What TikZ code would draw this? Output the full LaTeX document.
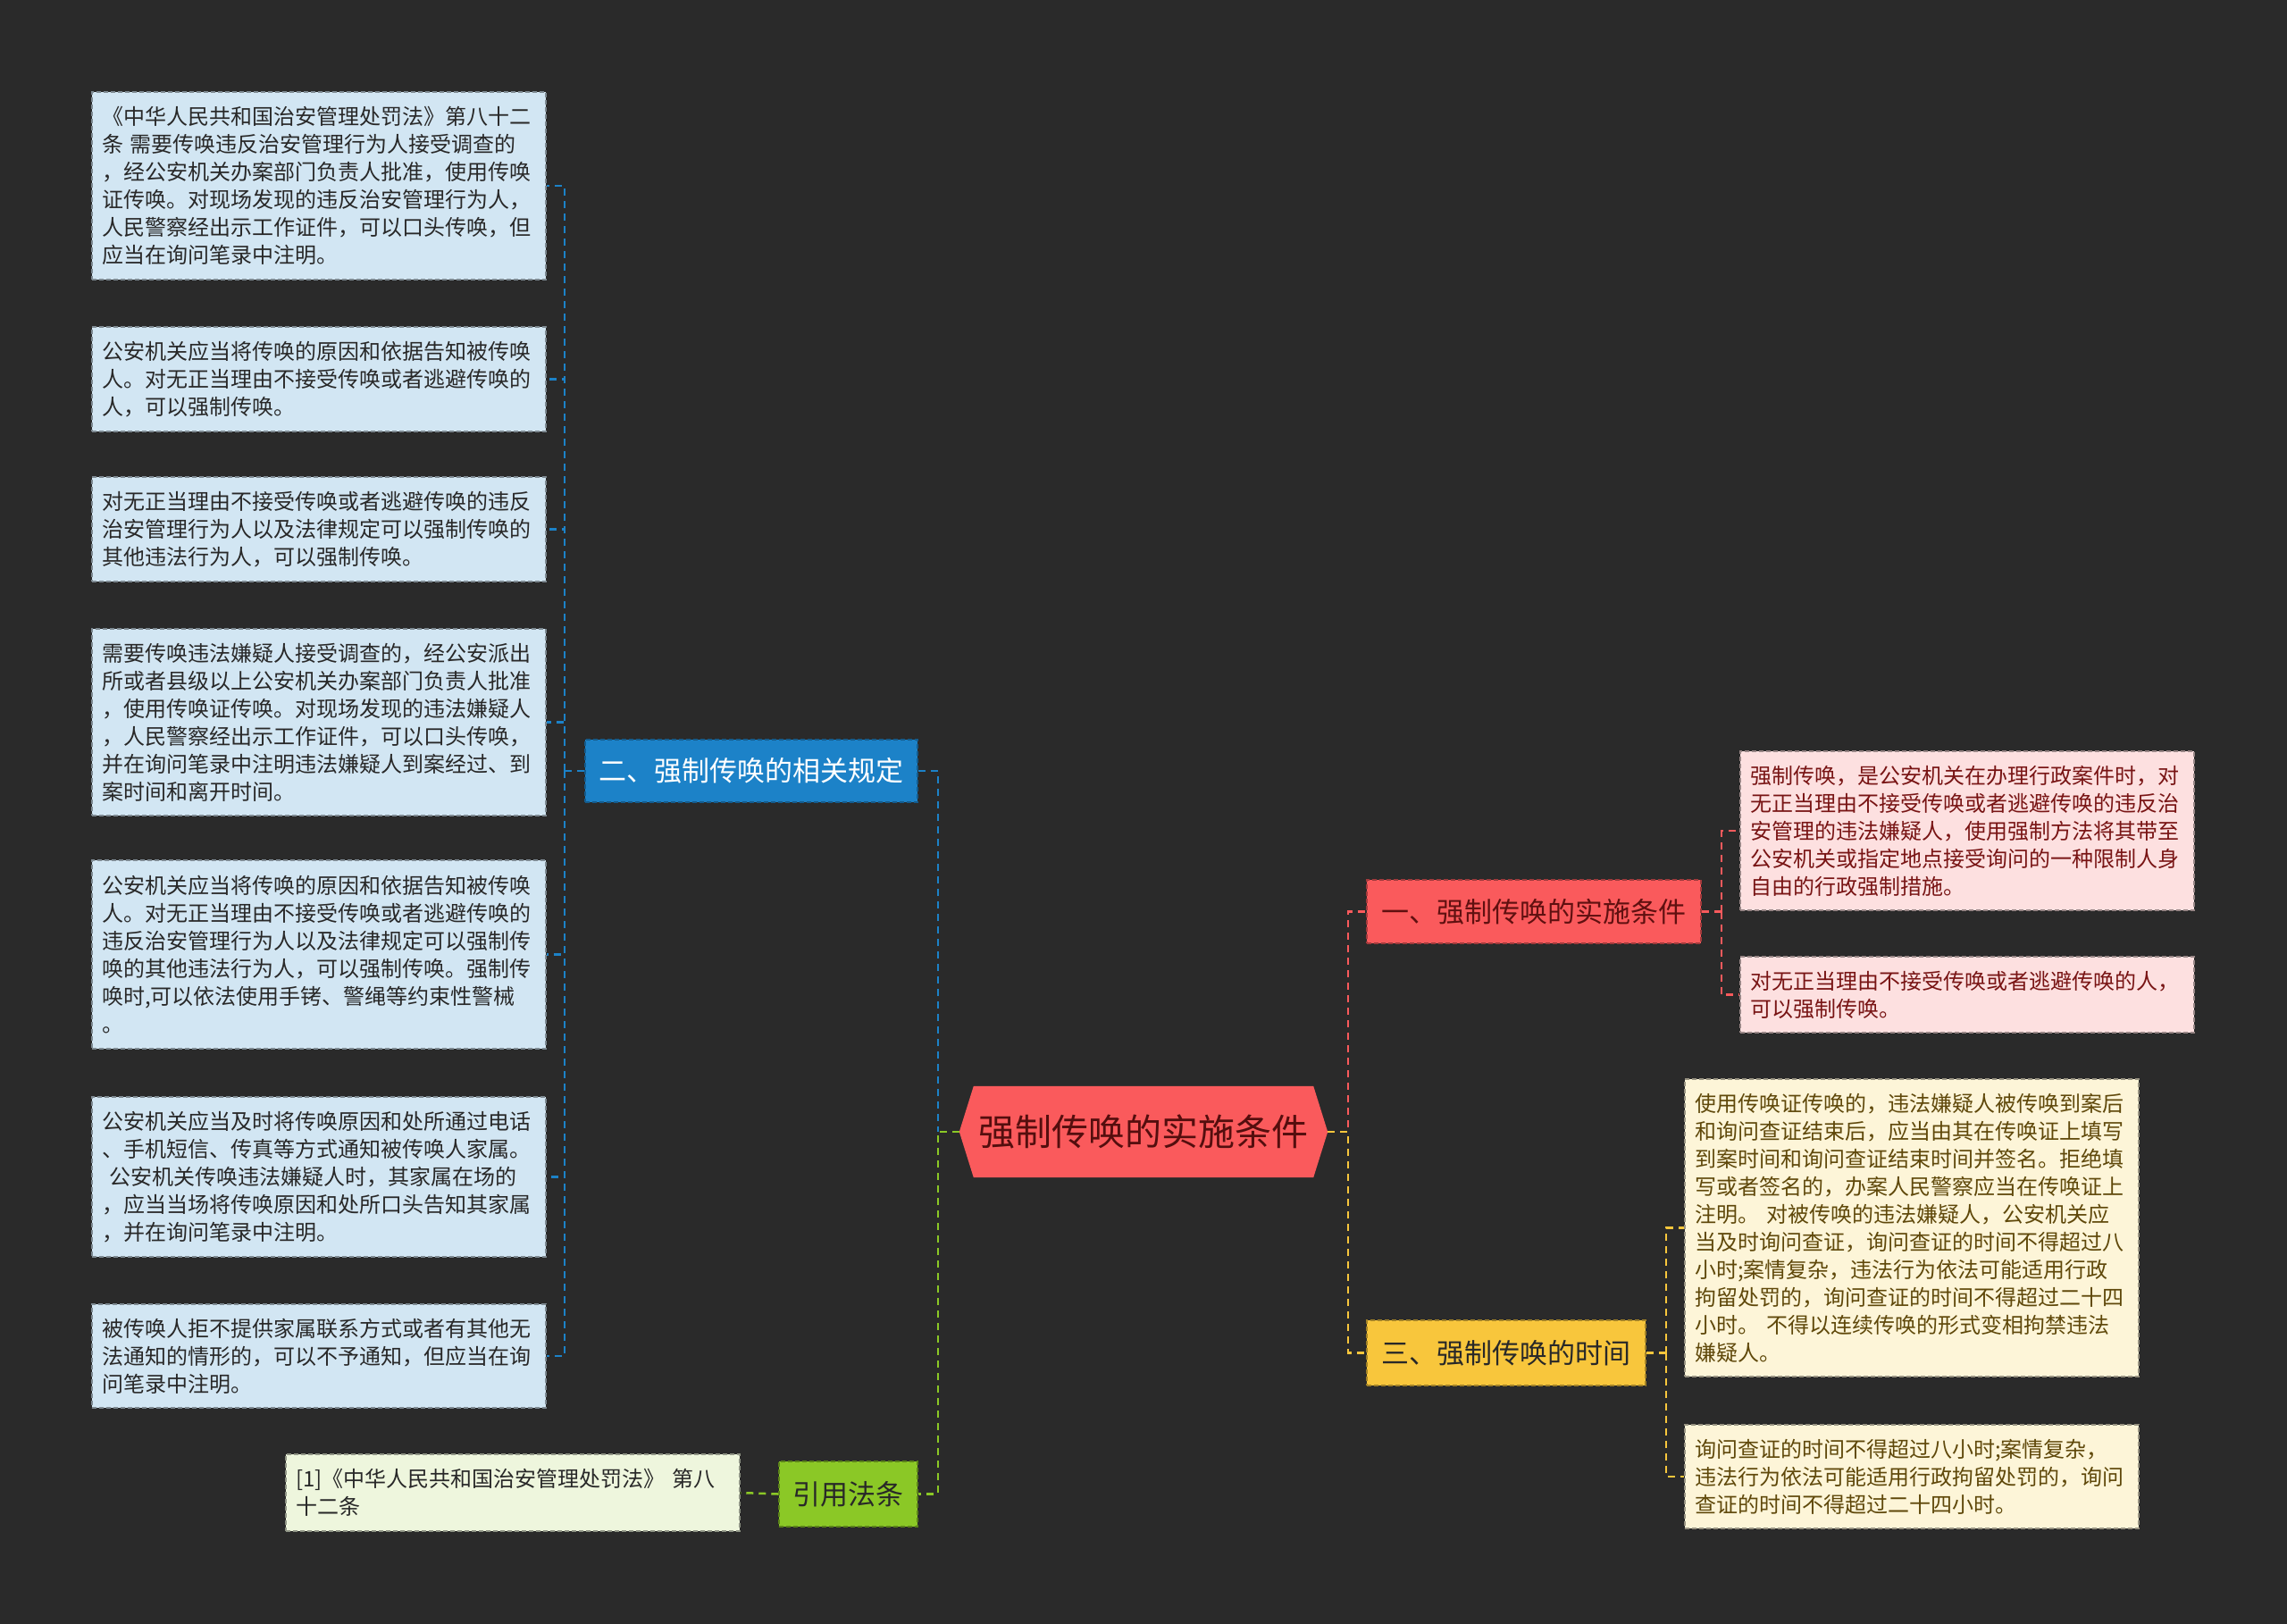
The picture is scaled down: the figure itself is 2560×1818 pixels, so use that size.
\documentclass[tikz,border=0pt]{standalone}
\usepackage{fontspec}
\setmainfont{Noto Sans CJK SC}
\usetikzlibrary{calc}
\definecolor{bg}{RGB}{42,42,42}
\definecolor{bluec}{RGB}{28,130,200}
\definecolor{bluel}{RGB}{210,230,243}
\definecolor{redc}{RGB}{250,90,92}
\definecolor{pinkl}{RGB}{253,224,224}
\definecolor{yelc}{RGB}{248,198,60}
\definecolor{creaml}{RGB}{253,245,216}
\definecolor{greenc}{RGB}{139,200,38}
\definecolor{greenl}{RGB}{238,246,221}
\definecolor{darkred}{RGB}{120,20,20}
\definecolor{darkolive}{RGB}{95,72,10}
\definecolor{darktxt}{RGB}{40,40,40}
\tikzset{
  con/.style={line width=2.5pt, dash pattern=on 8pt off 6pt},
  leafbox/.style={rectangle, minimum width=508pt, text width=486pt, align=left,
     inner xsep=11pt, inner ysep=0pt, font=\fontsize{24}{31}\selectfont,
     line width=1.5pt, dash pattern=on 5pt off 3pt},
  bluebox/.style={leafbox, fill=bluel, draw=bluel!60!black, text=darktxt},
  pinkbox/.style={leafbox, fill=pinkl, draw=pinkl!60!black, text=darkred},
  creambox/.style={leafbox, fill=creaml, draw=creaml!60!black, text=darkolive},
  greenbox/.style={leafbox, fill=greenl, draw=greenl!60!black, text=darktxt},
  topic/.style={rectangle, inner sep=0pt, font=\fontsize{31}{37}\selectfont,
     line width=1.5pt, dash pattern=on 5pt off 3pt},
}
\begin{document}
\begin{tikzpicture}[x=1pt,y=-1pt]
\fill[bg] (0,0) rectangle (2560,1818);
\useasboundingbox (0,0) rectangle (2560,1818);

% center node
\node[inner sep=0pt, minimum width=412pt, minimum height=102pt] (c) at (1280,1267) {};
\fill[redc] ($(c.north west)+(16,0)$) -- ($(c.north east)+(-16,0)$) -- (c.east)
  -- ($(c.south east)+(-16,0)$) -- ($(c.south west)+(16,0)$) -- (c.west) -- cycle;
\node[font=\fontsize{41}{48}\selectfont, text=darkred!70!black] at (c) {强制传唤的实施条件};

% level 1
\node[topic, fill=bluec, draw=bluec!70!black, text=white, minimum width=372pt, minimum height=70pt] (n2) at (841,863) {二、强制传唤的相关规定};
\node[topic, fill=greenc, draw=greenc!65!black, text=darktxt, minimum width=155pt, minimum height=73pt] (cite) at (949.5,1672.5) {引用法条};
\node[topic, fill=redc, draw=redc!65!black, text=darkred!80!black, minimum width=374pt, minimum height=71pt] (n1) at (1717,1020.5) {一、强制传唤的实施条件};
\node[topic, fill=yelc, draw=yelc!65!black, text=darktxt, minimum width=312pt, minimum height=73pt] (n3) at (1686,1514.5) {三、强制传唤的时间};

% left leaves
\node[bluebox, minimum height=210pt] (b1) at (357,208) {《中华人民共和国治安管理处罚法》第八十二\\条 需要传唤违反治安管理行为人接受调查的\\，经公安机关办案部门负责人批准，使用传唤\\证传唤。对现场发现的违反治安管理行为人，\\人民警察经出示工作证件，可以口头传唤，但\\应当在询问笔录中注明。};
\node[bluebox, minimum height=117pt] (b2) at (357,424.5) {公安机关应当将传唤的原因和依据告知被传唤\\人。对无正当理由不接受传唤或者逃避传唤的\\人，可以强制传唤。};
\node[bluebox, minimum height=117pt] (b3) at (357,592.5) {对无正当理由不接受传唤或者逃避传唤的违反\\治安管理行为人以及法律规定可以强制传唤的\\其他违法行为人，可以强制传唤。};
\node[bluebox, minimum height=209pt] (b4) at (357,808.5) {需要传唤违法嫌疑人接受调查的，经公安派出\\所或者县级以上公安机关办案部门负责人批准\\，使用传唤证传唤。对现场发现的违法嫌疑人\\，人民警察经出示工作证件，可以口头传唤，\\并在询问笔录中注明违法嫌疑人到案经过、到\\案时间和离开时间。};
\node[bluebox, minimum height=211pt] (b5) at (357,1068.5) {公安机关应当将传唤的原因和依据告知被传唤\\人。对无正当理由不接受传唤或者逃避传唤的\\违反治安管理行为人以及法律规定可以强制传\\唤的其他违法行为人，可以强制传唤。强制传\\唤时,可以依法使用手铐、警绳等约束性警械\\。};
\node[bluebox, minimum height=179pt] (b6) at (357,1317.5) {公安机关应当及时将传唤原因和处所通过电话\\、手机短信、传真等方式通知被传唤人家属。\\\hspace*{8pt}公安机关传唤违法嫌疑人时，其家属在场的\\，应当当场将传唤原因和处所口头告知其家属\\，并在询问笔录中注明。};
\node[bluebox, minimum height=116pt] (b7) at (357,1518) {被传唤人拒不提供家属联系方式或者有其他无\\法通知的情形的，可以不予通知，但应当在询\\问笔录中注明。};

\node[greenbox, minimum height=86pt] (ref) at (574,1671) {[1]《中华人民共和国治安管理处罚法》 第八\\十二条};

% right leaves
\node[pinkbox, minimum height=178pt] (pa) at (2202,930) {强制传唤，是公安机关在办理行政案件时，对\\无正当理由不接受传唤或者逃避传唤的违反治\\安管理的违法嫌疑人，使用强制方法将其带至\\公安机关或指定地点接受询问的一种限制人身\\自由的行政强制措施。};
\node[pinkbox, minimum height=85pt] (pb) at (2202,1113.5) {对无正当理由不接受传唤或者逃避传唤的人，\\可以强制传唤。};
\node[creambox, minimum height=333pt] (yc) at (2140,1374.5) {使用传唤证传唤的，违法嫌疑人被传唤到案后\\和询问查证结束后，应当由其在传唤证上填写\\到案时间和询问查证结束时间并签名。拒绝填\\写或者签名的，办案人民警察应当在传唤证上\\注明。 对被传唤的违法嫌疑人，公安机关应\\当及时询问查证，询问查证的时间不得超过八\\小时;案情复杂，违法行为依法可能适用行政\\拘留处罚的，询问查证的时间不得超过二十四\\小时。 不得以连续传唤的形式变相拘禁违法\\嫌疑人。};
\node[creambox, minimum height=116pt] (yd) at (2140,1653) {询问查证的时间不得超过八小时;案情复杂，\\违法行为依法可能适用行政拘留处罚的，询问\\查证的时间不得超过二十四小时。};

% junction coordinates
\coordinate (tl) at (1050,1267);
\coordinate (tr) at (1509,1267);
\coordinate (bj) at (632,863);
\coordinate (rj) at (1927,1020.5);
\coordinate (yj) at (1865,1514.5);

% connectors
\draw[con, bluec] (n2.east) -| (tl);
\draw[con, greenc] (c.west) -- (tl) |- (cite.east);
\draw[con, greenc] (cite.west) -- (ref.east);
\draw[con, redc] (c.east) -- (tr) |- (n1.west);
\draw[con, yelc] (c.east) -- (tr) |- (n3.west);
\draw[con, bluec] (n2.west) -- (bj);
\foreach \b in {b1,b2,b3,b4,b5,b6,b7} { \draw[con, bluec] (bj) |- (\b.east); }
\draw[con, redc] (n1.east) -- (rj);
\draw[con, redc] (rj) |- (pa.west);
\draw[con, redc] (rj) |- (pb.west);
\draw[con, yelc] (n3.east) -- (yj);
\draw[con, yelc] (yj) |- (yc.west);
\draw[con, yelc] (yj) |- (yd.west);
\end{tikzpicture}
\end{document}
